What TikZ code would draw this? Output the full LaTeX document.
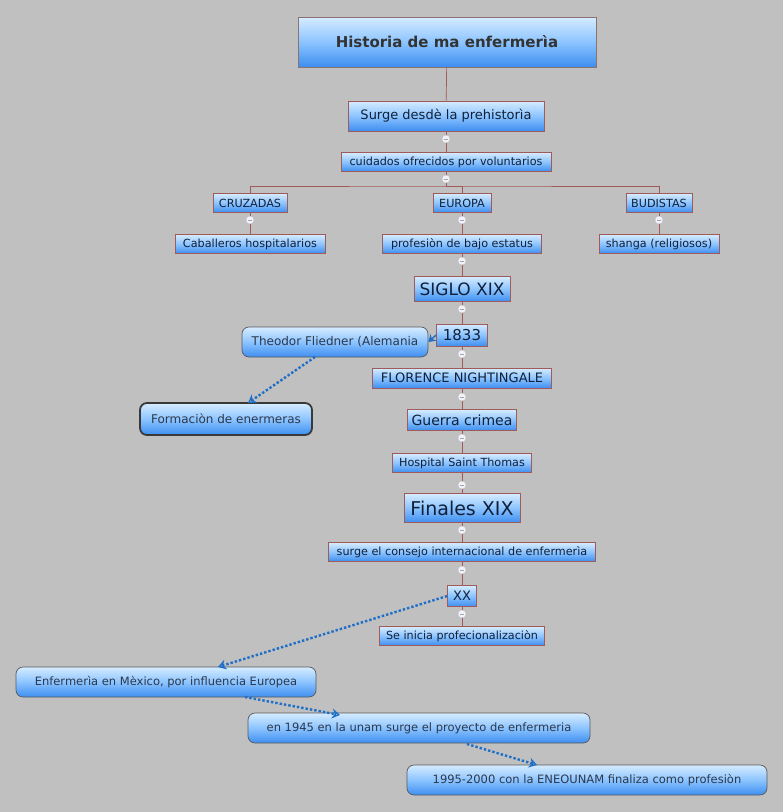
\documentclass[tikz,border=0pt]{standalone}
\usepackage{fontspec}
\setmainfont{DejaVu Sans}
\usetikzlibrary{arrows.meta}
\definecolor{bg}{HTML}{C0C0C0}
\definecolor{lnk}{HTML}{A05A5A}
\definecolor{arr}{HTML}{1F6FC8}
\definecolor{txt}{HTML}{10203A}
\definecolor{gt}{HTML}{D6ECFF}
\definecolor{gm}{HTML}{8CC4FF}
\definecolor{gb}{HTML}{3D8EF0}
\begin{document}
\begin{tikzpicture}[x=1pt,y=-1pt,
  sq/.style={draw=lnk,line width=0.7pt,top color=gt,bottom color=gb,middle color=gm,inner sep=0pt,font=\fontsize{12}{13}\selectfont,text=txt},
  rd/.style={draw=gray!70!black,line width=0.7pt,rounded corners=7pt,top color=gt,bottom color=gb,middle color=gm,inner sep=0pt,font=\fontsize{11.5}{13}\selectfont,text=txt!75!gray},
  lk/.style={draw=lnk,line width=0.7pt},
  sm/.style={font=\fontsize{11.2}{12}\selectfont},
  dot/.style={draw=arr,line width=2.4pt,dotted,-{Stealth[length=8pt,width=10pt,open,line width=2pt]}},
  mk/.style={circle,fill=blue!5,draw=gray!50,line width=0.3pt,inner sep=0pt,minimum size=8pt}]
\fill[bg] (0,0) rectangle (783,812);
\useasboundingbox (0,0) rectangle (783,812);
\def\B#1#2#3#4#5#6{\node[#1,minimum width=#4,minimum height=#5] (#6) at (#2,#3)}
\B{sq,draw=gray!60!lnk,font=\bfseries\fontsize{15}{17}\selectfont,text=gray!40!black}{447}{42}{298}{50}{t}{Historia de ma enfermerìa};
\B{sq,font=\fontsize{13}{14}\selectfont}{446}{116}{196}{30}{s}{Surge desdè la prehistorìa};
\B{sq,sm}{446}{162}{210}{19}{c}{cuidados ofrecidos por voluntarios};
\B{sq,sm}{250}{203}{74}{19}{cr}{CRUZADAS};
\B{sq,sm}{462}{203}{58}{19}{eu}{EUROPA};
\B{sq,sm}{659}{203}{66}{19}{bu}{BUDISTAS};
\B{sq,sm}{250}{244}{150}{19}{ca}{Caballeros hospitalarios};
\B{sq,sm}{462}{244}{159}{19}{pr}{profesiòn de bajo estatus};
\B{sq,sm}{659}{244}{120}{19}{sh}{shanga (religiosos)};
\B{sq,font=\fontsize{17}{18}\selectfont}{462}{289}{96}{25}{sx}{SIGLO XIX};
\B{sq,font=\fontsize{15}{16}\selectfont}{462}{335}{51}{22}{y}{1833};
\B{rd,font=\fontsize{12}{13}\selectfont}{335}{342}{186}{30}{th}{Theodor Fliedner (Alemania};
\B{rd,draw=gray!45!black,line width=1.8pt,font=\fontsize{12}{13}\selectfont}{226}{419}{172}{32}{fo}{Formaciòn de enermeras};
\B{sq,font=\fontsize{13}{14}\selectfont}{462}{378}{179}{20}{fl}{FLORENCE NIGHTINGALE};
\B{sq,font=\fontsize{14}{15}\selectfont}{462}{420}{109}{21}{gu}{Guerra crimea};
\B{sq,sm}{462}{463}{139}{19}{ho}{Hospital Saint Thomas};
\B{sq,font=\fontsize{19}{20}\selectfont}{462}{508}{116}{29}{fi}{Finales XIX};
\B{sq,sm}{462}{552}{267}{19}{co}{surge el consejo internacional de enfermerìa};
\B{sq,font=\fontsize{13}{14}\selectfont}{462}{596}{29}{21}{xx}{XX};
\B{sq,sm}{462}{636}{165}{19}{se}{Se inicia profecionalizaciòn};
\B{rd}{166}{682}{300}{30}{me}{Enfermerìa en Mèxico, por influencia Europea};
\B{rd}{419}{728}{342}{30}{un}{en 1945 en la unam surge el proyecto de enfermeria};
\B{rd}{587}{780}{360}{30}{en}{1995-2000 con la ENEOUNAM finaliza como profesiòn};
% links
\draw[lk] (t) -- (s);
\draw[lk] (s) -- (c);
\draw[lk] (c) -- (446,186);
\draw[lk] (cr.north) |- (446,186) -| (bu.north);
\draw[lk] (446,186) -| (eu.north);
\foreach \a/\b in {cr/ca,eu/pr,bu/sh,pr/sx,sx/y,y/fl,fl/gu,gu/ho,ho/fi,fi/co,co/xx,xx/se}{\draw[lk] (\a) -- (\b);}
\foreach \x/\yy [count=\i] in {446/139,446/179,250/220,462/220,659/220,462/261,462/309,462/354,462/397,462/438,462/485,462/530,462/570,462/614}{\node[mk] (m\i) at (\x,\yy) {}; \draw[gray!70,line width=0.6pt] ([xshift=-2pt]m\i.center) -- ([xshift=2pt]m\i.center);}
\draw[arr,line width=1.5pt,-{Stealth[length=7pt,width=9pt]}] (y.west) -- (th.east);
\draw[dot] (315,357) -- (248,403);
\draw[dot] (xx.west) -- (218,667);
\draw[dot] (245,697) -- (340,715);
\draw[dot] (467,744) -- (537,765);
\end{tikzpicture}
\end{document}
